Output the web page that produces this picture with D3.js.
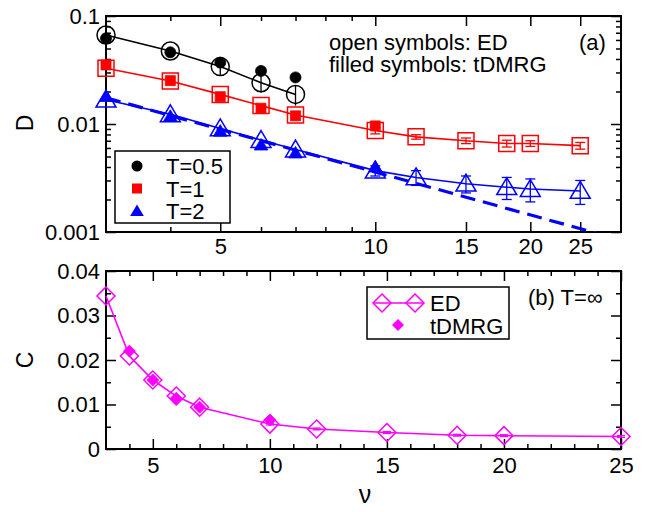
<!DOCTYPE html>
<html>
<head>
<meta charset="utf-8">
<script src="https://cdn.jsdelivr.net/npm/d3@7"></script>
<style>
  body { margin: 0; background: #fff; }
  svg { display: block; font-family: 'Liberation Sans', Arial, sans-serif; }
  .tick text { font-size: 22px; fill: #000; font-family: 'Liberation Sans', Arial, sans-serif; }
  .tick line { stroke: #000; stroke-width: 1.5; }
</style>
</head>
<body>
<svg id="chart" width="647" height="512"></svg>
<script>
// panel (a): D vs nu (log-log)
const nuED = [3, 4, 5, 6, 7, 10, 12, 15, 18, 20, 25];
const nuDMRG = [3, 4, 5, 6, 7, 10];
const nuT05 = [3, 4, 5, 6, 7];

const dED05 = [0.0667, 0.0474, 0.034, 0.0241, 0.0188];
const dED05err = [0, 0, 0.006, 0.0045, 0.004];
const dDMRG05 = [0.0622, 0.0461, 0.037, 0.031, 0.027];

const dED1 = [0.0328, 0.025, 0.0188, 0.0148, 0.0121, 0.0087, 0.0076, 0.0070, 0.0066, 0.0066, 0.0063];
const dED1err = [0, 0, 0, 0, 0, 0.0006, 0.00036, 0.00042, 0.00048, 0.0004, 0.00045];
const dDMRG1 = [0.0352, 0.0252, 0.0179, 0.014, 0.0119, 0.0096];

const dED2 = [0.0168, 0.0123, 0.0091, 0.0071, 0.0058, 0.0037, 0.0032, 0.0028, 0.0026, 0.0025, 0.0024];
const dED2err = [0, 0, 0, 0, 0, 0.0004, 0.0005, 0.0005, 0.0006, 0.0006, 0.0006];
const dDMRG2 = [0.018, 0.0118, 0.0086, 0.0064, 0.0054, 0.004];

// power law fit drawn dashed
const fitNu = [3, 27];
const fitD = [0.0175, 0.00097];

const tempLabels = ['T=0.5', 'T=1', 'T=2'];

// panel (b): C vs nu at T=inf
const cED = [0.0344, 0.0209, 0.0155, 0.0119, 0.0094, 0.0056, 0.0045, 0.0037, 0.0031, 0.0030, 0.0028];
const cEDerr = [0, 0, 0, 0, 0, 0.0002, 0.0002, 0.0002, 0.0002, 0.0002, 0.0002];
const nuDMRGb = [4, 5, 6, 7, 10];
const cDMRG = [0.022, 0.0155, 0.0114, 0.0094, 0.0065];

const zip = (xs, ys, es) => xs.map((x, i) => ({x: x, y: ys[i], e: es ? es[i] : 0}));

const shape = {
  circle: r => `M${-r},0A${r},${r} 0 1,0 ${r},0A${r},${r} 0 1,0 ${-r},0Z`,
  square: h => `M${-h},${-h}H${h}V${h}H${-h}Z`,
  triangle: h => `M0,${-h}L${h * 1.05},${h * 0.78}L${-h * 1.05},${h * 0.78}Z`,
  diamond: h => `M0,${-h}L${h},0L0,${h}L${-h},0Z`
};

const svg = d3.select('#chart');

function drawAxes(x, y, xMajor, xMinor, yMajor, yMinor, yFmt, xPad) {
  const [x0, x1] = x.range();
  const [y0, y1] = y.range(); // y0 bottom, y1 top
  const g = svg.append('g');
  const tidy = sel => sel.call(s => s.select('.domain').remove());

  g.append('g').attr('transform', `translate(0,${y0})`)
    .call(d3.axisBottom(x).tickValues(xMajor).tickSize(-10).tickPadding(xPad).tickFormat(d3.format('d'))).call(tidy);
  g.append('g').attr('transform', `translate(0,${y0})`)
    .call(d3.axisBottom(x).tickValues(xMinor).tickSize(-5).tickFormat('')).call(tidy);
  g.append('g').attr('transform', `translate(0,${y1})`)
    .call(d3.axisTop(x).tickValues(xMajor).tickSize(-10).tickFormat('')).call(tidy);
  g.append('g').attr('transform', `translate(0,${y1})`)
    .call(d3.axisTop(x).tickValues(xMinor).tickSize(-5).tickFormat('')).call(tidy);

  g.append('g').attr('transform', `translate(${x0},0)`)
    .call(d3.axisLeft(y).tickValues(yMajor).tickSize(-10).tickPadding(6).tickFormat(yFmt)).call(tidy);
  g.append('g').attr('transform', `translate(${x0},0)`)
    .call(d3.axisLeft(y).tickValues(yMinor).tickSize(-5).tickFormat('')).call(tidy);
  g.append('g').attr('transform', `translate(${x1},0)`)
    .call(d3.axisRight(y).tickValues(yMajor).tickSize(-10).tickFormat('')).call(tidy);
  g.append('g').attr('transform', `translate(${x1},0)`)
    .call(d3.axisRight(y).tickValues(yMinor).tickSize(-5).tickFormat('')).call(tidy);

  g.append('rect')
    .attr('x', x0).attr('y', y1)
    .attr('width', x1 - x0).attr('height', y0 - y1)
    .attr('fill', 'none').attr('stroke', '#000').attr('stroke-width', 2);
}

function drawLine(g, x, y, pts, color, width) {
  g.append('path')
    .datum(pts)
    .attr('fill', 'none')
    .attr('stroke', color)
    .attr('stroke-width', width || 1.6)
    .attr('d', d3.line().x(d => x(d.x)).y(d => y(d.y)));
}

function drawErrors(g, x, y, pts, color, cap) {
  const bars = g.append('g').attr('stroke', color).attr('stroke-width', 1.3);
  pts.filter(d => d.e > 0).forEach(d => {
    const cx = x(d.x), ya = y(d.y - d.e), yb = y(d.y + d.e);
    bars.append('line').attr('x1', cx).attr('x2', cx).attr('y1', ya).attr('y2', yb);
    if (cap > 0) {
      bars.append('line').attr('x1', cx - cap).attr('x2', cx + cap).attr('y1', ya).attr('y2', ya);
      bars.append('line').attr('x1', cx - cap).attr('x2', cx + cap).attr('y1', yb).attr('y2', yb);
    }
  });
}

function drawMarks(g, x, y, pts, path, color, filled) {
  g.append('g').selectAll('path')
    .data(pts)
    .enter().append('path')
    .attr('transform', d => `translate(${x(d.x)},${y(d.y)})`)
    .attr('d', path)
    .attr('fill', filled ? color : 'none')
    .attr('stroke', color)
    .attr('stroke-width', filled ? 0.8 : 1.5);
}

// ---------- panel (a)
const xa = d3.scaleLog().domain([3, 30]).range([106, 621]);
const ya = d3.scaleLog().domain([0.001, 0.1]).range([232, 16]);

const decadeMinor = [];
[0.001, 0.01].forEach(b => d3.range(2, 10).forEach(k => decadeMinor.push(b * k)));

drawAxes(xa, ya, [5, 10, 15, 20, 25], [4, 6, 7, 8, 9],
  [0.001, 0.01, 0.1], decadeMinor, d => String(d), 6);

svg.append('clipPath').attr('id', 'clipA')
  .append('rect').attr('x', 106).attr('y', 16).attr('width', 515).attr('height', 216);

const pa = svg.append('g');

const seriesA = [
  {color: '#000', nuE: nuT05, ed: dED05, err: dED05err, nuD: nuT05, dm: dDMRG05,
    open: shape.circle(9), fill: shape.circle(5.5), cap: 0},
  {color: '#ff0000', nuE: nuED, ed: dED1, err: dED1err, nuD: nuDMRG, dm: dDMRG1,
    open: shape.square(8), fill: shape.square(5), cap: 5},
  {color: '#0000ff', nuE: nuED, ed: dED2, err: dED2err, nuD: nuDMRG, dm: dDMRG2,
    open: shape.triangle(9.5), fill: shape.triangle(6.5), cap: 5}
];

// dashed power law for T=2
pa.append('path')
  .datum(zip(fitNu, fitD))
  .attr('clip-path', 'url(#clipA)')
  .attr('fill', 'none')
  .attr('stroke', '#0000ff')
  .attr('stroke-width', 3.2)
  .attr('stroke-dasharray', '15,8')
  .attr('d', d3.line().x(d => xa(d.x)).y(d => ya(d.y)));

seriesA.forEach(s => {
  const edPts = zip(s.nuE, s.ed, s.err);
  drawLine(pa, xa, ya, edPts, s.color);
  drawErrors(pa, xa, ya, edPts, s.color, s.cap);
  drawMarks(pa, xa, ya, edPts, s.open, s.color, false);
  drawMarks(pa, xa, ya, zip(s.nuD, s.dm), s.fill, s.color, true);
});

// legend (a)
const legA = svg.append('g');
legA.append('rect').attr('x', 115).attr('y', 151).attr('width', 115).attr('height', 72)
  .attr('fill', '#fff').attr('stroke', '#000').attr('stroke-width', 1.5);
seriesA.forEach((s, i) => {
  const ly = 166 + i * 22.5;
  legA.append('path').attr('transform', `translate(137,${ly})`)
    .attr('d', s.fill).attr('fill', s.color);
  legA.append('text').attr('x', 166).attr('y', ly + 8)
    .attr('font-size', 22).text(tempLabels[i]);
});

svg.append('text').attr('x', 329).attr('y', 50).attr('font-size', 22).text('open symbols: ED');
svg.append('text').attr('x', 329).attr('y', 72).attr('font-size', 22).text('filled symbols: tDMRG');
svg.append('text').attr('x', 579).attr('y', 50).attr('font-size', 22).text('(a)');

svg.append('text')
  .attr('transform', 'translate(33,123) rotate(-90)')
  .attr('text-anchor', 'middle')
  .attr('font-size', 23).text('D');

// ---------- panel (b)
const xb = d3.scaleLinear().domain([3, 25]).range([106, 621]);
const yb = d3.scaleLinear().domain([0, 0.04]).range([449, 271]);

drawAxes(xb, yb, [5, 10, 15, 20, 25], d3.range(4, 25).filter(v => v % 5 !== 0),
  [0, 0.01, 0.02, 0.03, 0.04], [0.005, 0.015, 0.025, 0.035], d => String(d), 8);

const pb = svg.append('g');
const cPts = zip(nuED, cED, cEDerr);
drawLine(pb, xb, yb, cPts, '#ff00ff');
drawErrors(pb, xb, yb, cPts, '#ff00ff', 4);
drawMarks(pb, xb, yb, cPts, shape.diamond(9), '#ff00ff', false);
drawMarks(pb, xb, yb, zip(nuDMRGb, cDMRG), shape.diamond(6), '#ff00ff', true);

// legend (b)
const legB = svg.append('g');
legB.append('rect').attr('x', 367).attr('y', 287).attr('width', 142).attr('height', 52)
  .attr('fill', '#fff').attr('stroke', '#000').attr('stroke-width', 1.5);
legB.append('line').attr('x1', 373).attr('x2', 423).attr('y1', 303).attr('y2', 303)
  .attr('stroke', '#ff00ff').attr('stroke-width', 1.6);
[382, 415].forEach(lx => legB.append('path').attr('transform', `translate(${lx},303)`)
  .attr('d', shape.diamond(9)).attr('fill', 'none').attr('stroke', '#ff00ff').attr('stroke-width', 1.5));
legB.append('path').attr('transform', 'translate(398,325)')
  .attr('d', shape.diamond(6)).attr('fill', '#ff00ff');
legB.append('text').attr('x', 430).attr('y', 311).attr('font-size', 22).text('ED');
legB.append('text').attr('x', 430).attr('y', 334).attr('font-size', 22).text('tDMRG');

svg.append('text').attr('x', 528).attr('y', 305).attr('font-size', 22).text('(b) T=\u221e');

svg.append('text')
  .attr('transform', 'translate(33,360) rotate(-90)')
  .attr('text-anchor', 'middle')
  .attr('font-size', 23).text('C');

svg.append('text').attr('x', 365).attr('y', 503)
  .attr('text-anchor', 'middle')
  .attr('font-size', 25).text('\u03bd');
</script>
</body>
</html>
